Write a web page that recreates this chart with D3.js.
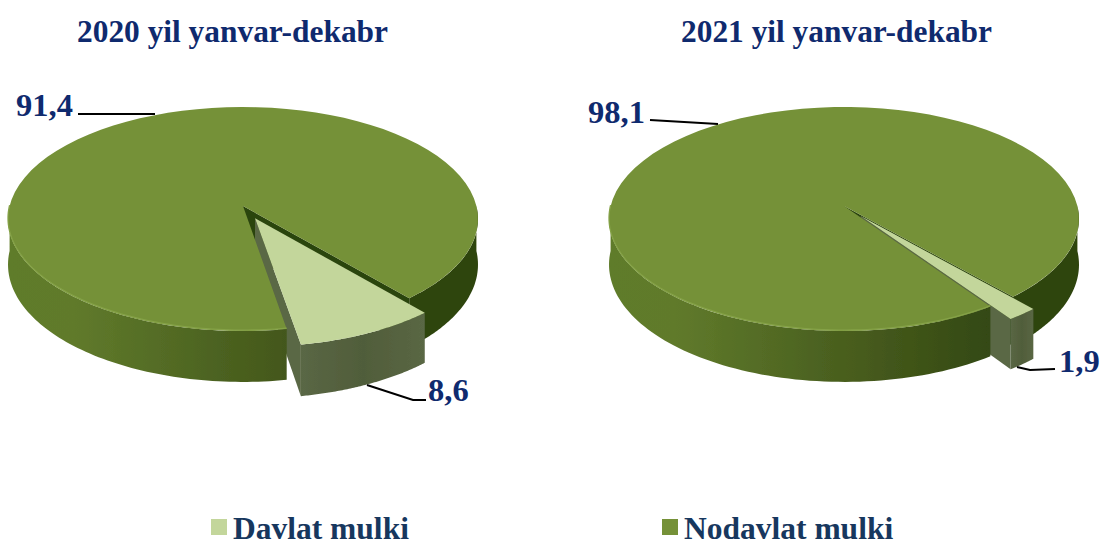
<!DOCTYPE html>
<html>
<head>
<meta charset="utf-8">
<script src="https://cdnjs.cloudflare.com/ajax/libs/d3/7.8.5/d3.min.js"></script>
<style>
  html, body { margin: 0; padding: 0; background: #fff; }
  svg { display: block; }
  text { font-family: "Liberation Serif", serif; font-weight: bold; }
</style>
</head>
<body>
<svg id="chart" width="1102" height="543"></svg>
<script>
// values
const categories = ["Davlat mulki", "Nodavlat mulki"];
const periods = ["2020 yil yanvar-dekabr", "2021 yil yanvar-dekabr"];
const values2020 = [8.6, 91.4];
const values2021 = [1.9, 98.1];
const labels2020 = ["8,6", "91,4"];
const labels2021 = ["1,9", "98,1"];

const width = 1102, height = 543;
const svg = d3.select("#chart");
const defs = svg.append("defs");

const colors = { main: "#759138", light: "#c3d69b", rim: "#85a247", cut: "#2c4410", explodedSide: "#5a6745", navy: "#0f2a6e", legend: "#17375e" };

const exGrad = defs.append("linearGradient").attr("id", "exWall");
[[0, "#5a6745"], [0.5, "#505d3a"], [1, "#5a6744"]].forEach(([o, c]) => exGrad.append("stop").attr("offset", o).attr("stop-color", c));
defs.append("filter").attr("id", "soft").append("feGaussianBlur").attr("stdDeviation", 0.7);

const line = d3.line();
const deg = d3.scaleLinear().domain([0, 360]).range([0, 2 * Math.PI]);

function drawPie(cfg) {
  const R = 233.4, S = 110.5, t = 0.116, D = 45, explode = cfg.explode;
  // perspective projection of the unit disc, v is toward the viewer
  const proj = (u, v, h) => {
    const w = 1 - t * v;
    return [cfg.cx + R * u / w, cfg.cy + (S * v + h) / w];
  };
  const pie = d3.pie().sort(null).startAngle(deg(cfg.start)).endAngle(deg(cfg.start) + 2 * Math.PI);
  const [small, big] = pie(cfg.values);
  const mid = (small.startAngle + small.endAngle) / 2;
  const ox = Math.sin(mid) * explode, oy = -Math.cos(mid) * explode;

  // front wall shading runs across the whole pie
  const grad = defs.append("linearGradient").attr("id", cfg.id).attr("gradientUnits", "userSpaceOnUse")
    .attr("x1", cfg.cx - 235).attr("x2", cfg.cx + 235).attr("y1", 0).attr("y2", 0);
  [[0, "#5f7b2b"], [0.14, "#607a2b"], [0.35, "#526a24"], [0.58, "#44581b"], [0.8, "#344a12"], [1, "#2f4410"]]
    .forEach(([o, c]) => grad.append("stop").attr("offset", o).attr("stop-color", c));

  const arcPts = (a0, a1, h, dx, dy) => d3.range(0, 81).map(i => {
    const a = a0 + (a1 - a0) * i / 80;
    return proj(Math.sin(a) + (dx || 0), -Math.cos(a) + (dy || 0), h);
  });
  const g = svg.append("g").attr("filter", "url(#soft)");
  const poly = (pts, fill) => g.append("path").attr("d", line(pts) + "Z").attr("fill", fill);

  // main slice: walls that sit behind the exploded slice
  const a0 = small.startAngle, a1 = small.endAngle;
  poly(arcPts(deg(90), a0, 0).concat(arcPts(deg(90), a0, D).reverse()), "#2f4410");
  poly([proj(0, 0, 0), proj(Math.sin(a0), -Math.cos(a0), 0), proj(Math.sin(a0), -Math.cos(a0), D), proj(0, 0, D)], colors.cut);

  // exploded slice: inner face
  const eIn = proj(ox, oy, 0), eInB = proj(ox, oy, D);
  const eOut = proj(Math.sin(a1) + ox, -Math.cos(a1) + oy, 0), eOutB = proj(Math.sin(a1) + ox, -Math.cos(a1) + oy, D);
  poly([eIn, eOut, eOutB, eInB], colors.explodedSide);

  // main slice: front wall and top, with the pale rim on the front edge
  const frontEnd = deg(270);
  poly(arcPts(a1, frontEnd, 0).concat(arcPts(a1, frontEnd, D).reverse()), `url(#${cfg.id})`);
  poly(arcPts(a1, big.endAngle, 0).concat([proj(0, 0, 0)]), colors.main);
  g.append("path").attr("d", line(arcPts(a1, frontEnd, -0.8))).attr("fill", "none")
    .attr("stroke", colors.rim).attr("stroke-width", 1.3);

  // exploded slice: outer wall and top
  poly(arcPts(a0, a1, 0, ox, oy).concat(arcPts(a0, a1, D, ox, oy).reverse()), "url(#exWall)");
  poly(arcPts(a0, a1, 0, ox, oy).concat([eIn]), colors.light);

  // leaders and value labels
  cfg.leaders.forEach(pts => svg.append("path").attr("d", line(pts)).attr("fill", "none").attr("stroke", "#000").attr("stroke-width", 2));
  cfg.labels.forEach((txt, i) => svg.append("text")
    .attr("x", cfg.labelPos[i][0]).attr("y", cfg.labelPos[i][1])
    .attr("font-size", 32.5).attr("fill", colors.navy).text(txt));
  svg.append("text").attr("x", cfg.titleX).attr("y", 41.5).attr("font-size", 31.4)
    .attr("fill", colors.navy).text(cfg.title);
}

drawPie({
  id: "wall1", cx: 243, cy: 206, start: 139.5, explode: 0.12, values: values2020, labels: labels2020, title: periods[0], titleX: 77,
  labelPos: [[428, 401], [16, 116]],
  leaders: [[[367, 385], [413, 400], [426, 400]], [[78, 114], [155, 114]]]
});
drawPie({
  id: "wall2", cx: 844, cy: 206, start: 138.6, explode: 0.115, values: values2021, labels: labels2021, title: periods[1], titleX: 681,
  labelPos: [[1059, 372], [588, 123]],
  leaders: [[[1017, 367], [1030, 370], [1055, 369]], [[650, 120], [718, 124]]]
});

// legend
const legendX = d3.scaleOrdinal().domain(categories).range([211, 662]);
const legendFill = d3.scaleOrdinal().domain(categories).range([colors.light, colors.main]);
categories.forEach(c => {
  svg.append("rect").attr("x", legendX(c)).attr("y", 519).attr("width", 16).attr("height", 16).attr("fill", legendFill(c));
  svg.append("text").attr("x", legendX(c) + 22).attr("y", 539).attr("font-size", 31.5).attr("fill", colors.legend).text(c);
});
</script>
</body>
</html>
